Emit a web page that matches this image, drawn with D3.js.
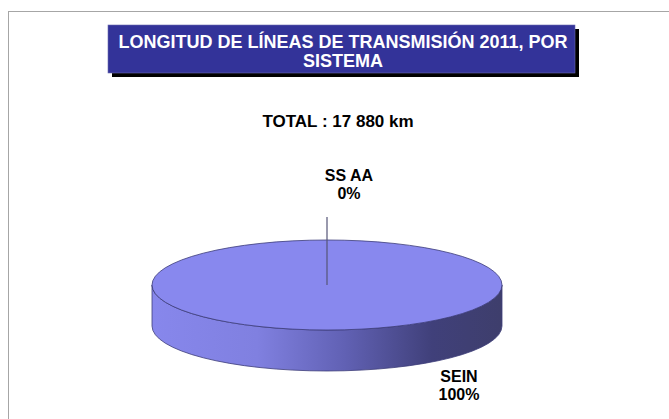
<!DOCTYPE html>
<html lang='es'>
<head>
  <meta charset='utf-8'>
  <title>Longitud de líneas de transmisión 2011</title>
  <script src='https://cdn.jsdelivr.net/npm/d3@7'></script>
  <style>
    body { margin: 0; background: #fff; }
  </style>
</head>
<body>
  <script>
    // data
    let categories = ["SEIN", "SS AA"];
    let percents = [100, 0];
    let titleLines = ["LONGITUD DE LÍNEAS DE TRANSMISIÓN 2011, POR", "SISTEMA"];
    let totalLabel = "TOTAL : 17 880 km";

    let width = 669, height = 419;
    let cx = 327, cy = 285, rx = 175, ry = 45, depth = 41;

    let svg = d3.select("body").append("svg")
      .attr("width", width)
      .attr("height", height)
      .style("font-family", "Liberation Sans, Arial, sans-serif");

    // frame of the chart area
    svg.append("rect")
      .attr("x", 8.5).attr("y", 11.5)
      .attr("width", 700).attr("height", 450)
      .attr("fill", "none")
      .attr("stroke", "#a6a6a6")
      .attr("stroke-width", 1);

    // title box with drop shadow
    svg.append("rect")
      .attr("x", 112).attr("y", 29)
      .attr("width", 467).attr("height", 48)
      .attr("fill", "#000");
    svg.append("rect")
      .attr("x", 108).attr("y", 25)
      .attr("width", 467).attr("height", 48)
      .attr("fill", "#333399")
      .attr("stroke", "#6b6bb0")
      .attr("stroke-width", 0.6);
    svg.append("g").selectAll("text").data(titleLines).join("text")
      .attr("x", 343)
      .attr("y", (d, i) => 48 + i * 19)
      .attr("text-anchor", "middle")
      .attr("fill", "#fff")
      .attr("font-weight", "bold")
      .attr("font-size", 18)
      .text(d => d);

    svg.append("text")
      .attr("x", 338).attr("y", 127)
      .attr("text-anchor", "middle")
      .attr("font-weight", "bold")
      .attr("font-size", 17)
      .text(totalLabel);

    // side shading
    let defs = svg.append("defs");
    let grad = defs.append("linearGradient")
      .attr("id", "side")
      .attr("gradientUnits", "userSpaceOnUse")
      .attr("x1", cx - rx).attr("x2", cx + rx)
      .attr("y1", 0).attr("y2", 0);
    [[0, "#8787ec"], [0.3, "#8080e0"], [0.55, "#6161b4"], [0.8, "#40407a"], [1, "#3e3e6c"]]
      .forEach(s => grad.append("stop").attr("offset", s[0]).attr("stop-color", s[1]));

    let pie = d3.pie().sort(null).value(d => d.value);
    let slices = pie(categories.map((c, i) => ({ name: c, value: percents[i] })));

    let px = a => cx + rx * Math.sin(a);
    let py = (a, dz) => cy - ry * Math.cos(a) + dz;

    // visible outer wall of a slice (front half only)
    function sidePath(d) {
      let s = Math.max(d.startAngle, Math.PI / 2);
      let e = Math.min(d.endAngle, 3 * Math.PI / 2);
      if (e <= s) return null;
      return `M${px(s)},${py(s, 0)}` +
        `A${rx},${ry} 0 0 1 ${px(e)},${py(e, 0)}` +
        `L${px(e)},${py(e, depth)}` +
        `A${rx},${ry} 0 0 0 ${px(s)},${py(s, depth)}Z`;
    }

    let pieG = svg.append("g");
    pieG.selectAll(".side").data(slices.filter(d => d.endAngle > d.startAngle)).join("path")
      .attr("class", "side")
      .attr("d", sidePath)
      .attr("fill", "url(#side)")
      .attr("stroke", "#3c3c78")
      .attr("stroke-width", 0.8);

    // top face: circular arcs squashed into the ellipse
    let arc = d3.arc().innerRadius(0).outerRadius(rx);
    pieG.append("g")
      .attr("transform", `translate(${cx},${cy}) scale(1,${ry / rx})`)
      .selectAll(".top").data(slices.filter(d => d.endAngle > d.startAngle)).join("path")
      .attr("class", "top")
      .attr("d", arc)
      .attr("fill", "#8888ee")
      .attr("stroke", "#3c3c78")
      .attr("vector-effect", "non-scaling-stroke")
      .style("stroke-width", 0.8);

    // labels
    let labelPos = {
      "SEIN": { x: 459, y: 382 },
      "SS AA": { x: 349, y: 181 }
    };
    let labels = svg.append("g").selectAll("g").data(slices).join("g")
      .attr("transform", d => `translate(${labelPos[d.data.name].x},${labelPos[d.data.name].y})`);
    labels.append("text")
      .attr("text-anchor", "middle")
      .attr("font-weight", "bold")
      .attr("font-size", 16)
      .text(d => d.data.name);
    labels.append("text")
      .attr("y", 18)
      .attr("text-anchor", "middle")
      .attr("font-weight", "bold")
      .attr("font-size", 16)
      .text(d => d3.format(".0f")(d.data.value) + "%");

    // leader line for the empty slice
    slices.filter(d => d.endAngle === d.startAngle).forEach(d => {
      svg.append("line")
        .attr("x1", cx)
        .attr("y1", cy)
        .attr("x2", cx)
        .attr("y2", 217)
        .attr("stroke", "#555577")
        .attr("stroke-width", 1.2);
    });
  </script>
</body>
</html>
